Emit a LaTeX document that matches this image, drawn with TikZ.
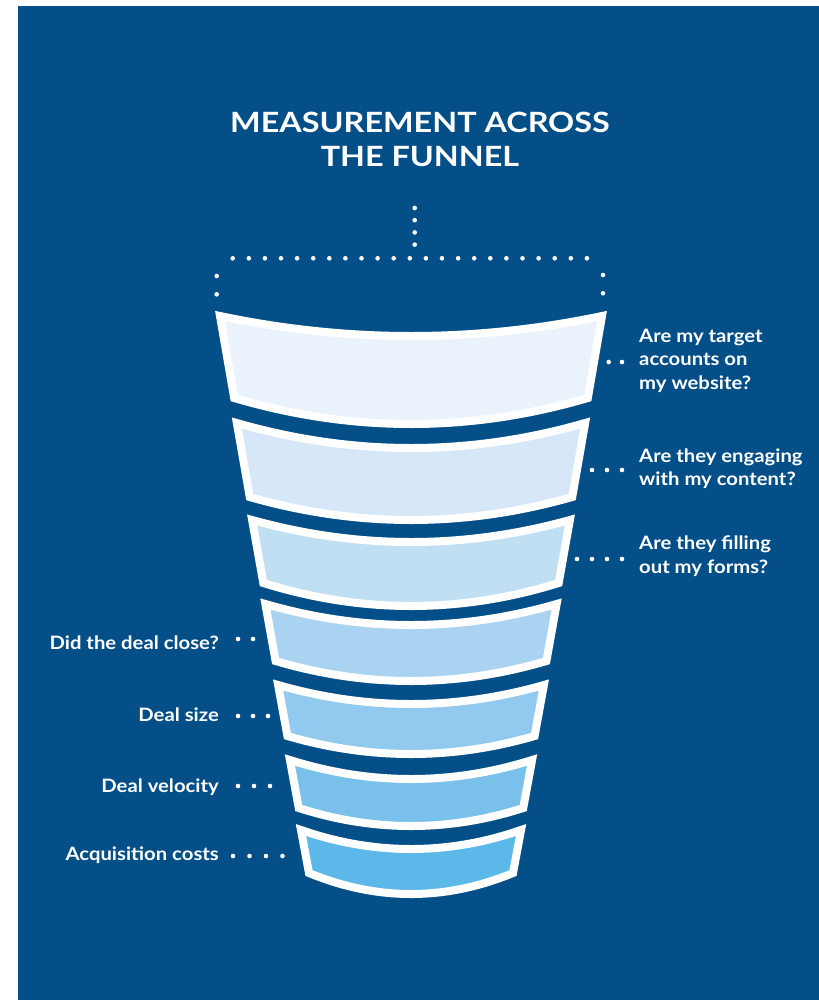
\documentclass[tikz,border=0pt]{standalone}
\usepackage{fontspec}
\setmainfont{Lato}
\newfontfamily\headfont[FakeStretch=1.16]{Lato}
\newfontfamily\labelfont[FakeStretch=1.10]{Lato}

\definecolor{bgblue}{HTML}{054F88}
\definecolor{bandA}{HTML}{EAF3FC}
\definecolor{bandB}{HTML}{D6E8F7}
\definecolor{bandC}{HTML}{C1DFF3}
\definecolor{bandD}{HTML}{A9D3F1}
\definecolor{bandE}{HTML}{92C9EE}
\definecolor{bandF}{HTML}{79C0EA}
\definecolor{bandG}{HTML}{5BB8E8}

% one slice of the funnel: top y, bottom y, sag of top, sag of bottom, fill
\newcommand{\funnelband}[5]{%
  \pgfmathsetmacro{\hwa}{195-0.1575*(#1-312)-4}
  \pgfmathsetmacro{\hwb}{195-0.1575*(#2-312)-4}
  \pgfmathsetmacro{\ya}{#1+4}
  \pgfmathsetmacro{\yb}{#2-4}
  \draw[band, fill=#5] (411-\hwa,\ya)
    .. controls (411-\hwa/3,\ya+4*#3/3) and (411+\hwa/3,\ya+4*#3/3) .. (411+\hwa,\ya)
    -- (411+\hwb,\yb)
    .. controls (411+\hwb/3,\yb+4*#4/3) and (411-\hwb/3,\yb+4*#4/3) .. (411-\hwb,\yb) -- cycle;
}

\tikzset{
  band/.style={draw=white, line width=8bp, line join=miter},
  leader/.style={draw=white, line width=4.6bp, line cap=round, dash pattern=on 0bp off #1},
  leader/.default=15bp,
  question/.style={text=white, font=\labelfont\fontsize{18.5}{23.5}\selectfont\bfseries, inner sep=0pt, align=left, anchor=base west},
  metric/.style={text=white, font=\labelfont\fontsize{18.5}{23.5}\selectfont\bfseries, inner sep=0pt, anchor=base east},
  heading/.style={text=white, font=\headfont\fontsize{28}{34}\selectfont\bfseries, inner sep=0pt, align=center, anchor=base}
}

\begin{document}
\begin{tikzpicture}[x=1bp, y=-1bp]
  \useasboundingbox (0,0) rectangle (819,1000);
  \fill[white] (0,0) rectangle (819,1000);
  \fill[bgblue] (18,6) rectangle (819,1000);

  % base of a multi-line node is its last line
  \node[heading] (title) at (420,166) {MEASUREMENT ACROSS\\THE FUNNEL};

  % dotted bracket over the funnel
  \coordinate (brtop) at (414.7,208);
  \coordinate (brmid) at (414.7,246);
  \coordinate (brleft) at (232.7,258.3);
  \coordinate (brright) at (588,258.3);
  \draw[leader=12.2bp] (brtop) -- (brmid);
  \draw[leader=16.1bp] (brleft) -- (brright);
  \draw[leader=18.3bp] (216.7,276) -- (216.7,295);
  \draw[leader=18.3bp] (603,275) -- (603,294);

  % funnel slices
  \funnelband{312}{402}{20}{26}{bandA}
  \funnelband{419}{501}{25}{23}{bandB}
  \funnelband{516}{587}{22}{23}{bandC}
  \funnelband{600}{665}{21}{20}{bandD}
  \funnelband{681}{740}{19}{18}{bandE}
  \funnelband{756}{812}{19}{18}{bandF}
  \funnelband{826}{877}{19}{21}{bandG}

  % questions on the right
  \node[question] (q1) at (639,389) {Are my target\\accounts on\\my website?};
  \node[question] (q2) at (639,485.7) {Are they engaging\\with my content?};
  \node[question] (q3) at (639,573) {Are they filling\\out my forms?};

  % metrics on the left
  \node[metric] (m4) at (219,649) {Did the deal close?};
  \node[metric] (m5) at (219,721.7) {Deal size};
  \node[metric] (m6) at (219,792.7) {Deal velocity};
  \node[metric] (m7) at (219,860.7) {Acquisition costs};

  % leaders
  \coordinate (d1) at (607,362);
  \coordinate (d2) at (590.5,470);
  \coordinate (d3) at (575.5,559);
  \coordinate (d4) at (255,639);
  \coordinate (d5) at (270,716);
  \coordinate (d6) at (271,786);
  \coordinate (d7) at (284,856);
  \draw[leader=13.3bp] ([xshift=-17bp]q1.west |- d1) -- (d1);
  \draw[leader] ([xshift=-17bp]q2.west |- d2) -- (d2);
  \draw[leader] ([xshift=-17bp]q3.west |- d3) -- (d3);
  \draw[leader] ([xshift=19bp]m4.east |- d4) -- (d4);
  \draw[leader] ([xshift=19bp]m5.east |- d5) -- (d5);
  \draw[leader=16bp] ([xshift=19bp]m6.east |- d6) -- (d6);
  \draw[leader=16.5bp] ([xshift=14bp]m7.east |- d7) -- (d7);
\end{tikzpicture}
\end{document}
